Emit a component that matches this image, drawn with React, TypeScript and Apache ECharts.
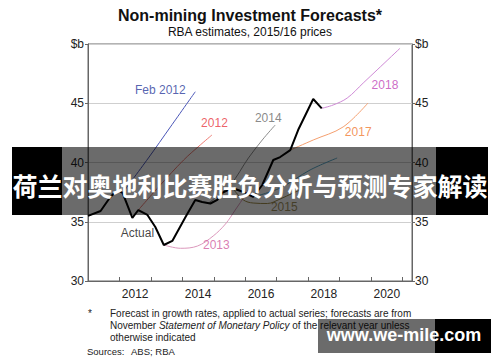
import React, { useEffect, useRef } from 'react';
import * as echarts from 'echarts';

// Actual series (year, $b)
const actualX = [2011.0, 2011.4, 2011.71, 2011.94, 2012.1, 2012.41, 2012.6, 2012.89, 2013.14, 2013.41, 2013.68, 2014.1, 2014.41, 2014.63, 2014.89, 2015.11, 2015.27, 2015.59, 2015.94, 2016.25, 2016.54, 2016.89, 2017.11, 2017.43, 2017.68, 2018.16, 2018.43];
const actualY = [35.49, 35.91, 37.09, 37.68, 37.43, 35.32, 35.99, 35.57, 34.56, 33.04, 33.38, 35.4, 36.84, 36.67, 36.54, 36.84, 37.43, 37.85, 37.51, 37.09, 38.1, 40.21, 40.46, 41.05, 42.74, 45.36, 44.57];

// Forecasts
const feb2012X = [2012.1, 2012.92, 2013.62, 2014.41];
const feb2012Y = [37.43, 40.38, 43.0, 45.97];
const f2012X = [2012.6, 2013.3, 2014.04, 2014.57, 2014.94];
const f2012Y = [35.99, 38.1, 40.21, 41.48, 42.32];
const f2013X = [2013.41, 2013.94, 2014.48, 2014.98, 2015.37, 2015.68, 2016.0, 2016.32];
const f2013Y = [33.04, 32.76, 32.95, 33.8, 34.81, 35.99, 37.26, 38.78];
const f2014X = [2014.83, 2015.52, 2016.1, 2016.54, 2016.95];
const f2014Y = [36.58, 38.1, 40.38, 41.9, 43.16];
const f2015X = [2015.59, 2015.94, 2016.25, 2016.7, 2017.11, 2017.52, 2017.75];
const f2015Y = [37.85, 36.84, 36.58, 36.54, 36.92, 37.43, 37.68];
const f2016X = [2016.25, 2017.11, 2018.06, 2018.92];
const f2016Y = [37.09, 37.85, 39.37, 40.38];
const f2017X = [2017.43, 2018.16, 2019.11, 2019.9];
const f2017Y = [41.05, 41.9, 43.0, 45.02];
const f2018X = [2018.43, 2018.79, 2019.24, 2019.75, 2020.19, 2020.92];
const f2018Y = [44.57, 44.85, 45.44, 46.71, 47.81, 49.64];

// Line annotations
const labelTexts = ['Feb 2012', '2012', '2014', '2017', '2018', 'Actual', '2013', '2015'];
const labelX = [2013.3, 2015.02, 2016.73, 2019.59, 2020.44, 2012.57, 2015.08, 2017.24];
const labelY = [46.12, 43.33, 43.76, 42.57, 46.54, 34.05, 33.04, 36.24];
const labelColors = ['#2b3a9c', '#e8383f', '#6a6a6a', '#f07a32', '#c045b8', '#111111', '#d05c9e', '#8a7636'];

const yTicks = [30, 35, 40, 45, 50];
const xLabelYears = [2012, 2014, 2016, 2018, 2020];

const FONT = '"Liberation Sans", Arial, sans-serif';

const zip = (xs: number[], ys: number[]) => xs.map((x, i) => [x, ys[i]]);

const forecast = (name: string, xs: number[], ys: number[], color: string) => ({
  name,
  type: 'line',
  data: zip(xs, ys),
  smooth: 0.35,
  symbol: 'none',
  lineStyle: { color, width: 1 },
  z: 2,
});

export default function App() {
  const ref = useRef<HTMLDivElement>(null);
  useEffect(() => {
    const chart = echarts.init(ref.current!, null, { renderer: 'svg' });
    const yLabel = (v: number) => (v === 50 ? '$b' : String(v));
    const option: any = {
      animation: false,
      backgroundColor: '#ffffff',
      grid: { left: 88, right: 88, top: 44, bottom: 81, show: true, borderColor: '#666', borderWidth: 1 },
      xAxis: [
        {
          type: 'value', min: 2011, max: 2021.3, interval: 1,
          axisLine: { show: true, lineStyle: { color: '#666' } },
          axisTick: { show: true, inside: true, length: 4, lineStyle: { color: '#666' } },
          axisLabel: { show: false },
          splitLine: { show: false },
        },
        {
          type: 'value', min: 2011, max: 2021.3, interval: 0.5, position: 'bottom',
          axisLine: { show: false }, axisTick: { show: false }, splitLine: { show: false },
          axisLabel: {
            show: true, margin: 7, fontSize: 12, color: '#222', fontFamily: FONT,
            showMinLabel: false, showMaxLabel: false,
            formatter: (v: number) => (xLabelYears.includes(v - 0.5) ? String(v - 0.5) : ''),
          },
        },
      ],
      yAxis: [
        {
          type: 'value', min: yTicks[0], max: yTicks[yTicks.length - 1], interval: 5, position: 'left',
          axisLine: { show: true, lineStyle: { color: '#666' } },
          axisTick: { show: true, length: 3, lineStyle: { color: '#666' } },
          axisLabel: { margin: 4, fontSize: 12, color: '#222', fontFamily: FONT, formatter: yLabel },
          splitLine: { show: true, lineStyle: { color: '#cfcfcf', width: 1 } },
        },
        {
          type: 'value', min: yTicks[0], max: yTicks[yTicks.length - 1], interval: 5, position: 'right',
          axisLine: { show: true, lineStyle: { color: '#666' } },
          axisTick: { show: true, length: 3, lineStyle: { color: '#666' } },
          axisLabel: { margin: 3, fontSize: 12, color: '#222', fontFamily: FONT, formatter: yLabel },
          splitLine: { show: false },
        },
      ],
      series: [
        forecast('Feb 2012', feb2012X, feb2012Y, '#4a56b8'),
        forecast('2012', f2012X, f2012Y, '#ee7a72'),
        forecast('2013', f2013X, f2013Y, '#dc98bc'),
        forecast('2014', f2014X, f2014Y, '#8c8c8c'),
        forecast('2015', f2015X, f2015Y, '#a08c48'),
        forecast('2016', f2016X, f2016Y, '#5aa8c8'),
        forecast('2017', f2017X, f2017Y, '#f5a070'),
        forecast('2018', f2018X, f2018Y, '#cf8ad6'),
        {
          name: 'Actual', type: 'line', data: zip(actualX, actualY), symbol: 'none',
          lineStyle: { color: '#000', width: 2 }, z: 3,
        },
        {
          name: 'labels', type: 'scatter', symbolSize: 0, z: 4,
          data: labelTexts.map((t, i) => ({
            name: t, value: [labelX[i], labelY[i]],
            label: { color: labelColors[i] },
          })),
          label: {
            show: true, position: 'inside', fontSize: 12, fontFamily: FONT,
            formatter: (p: any) => p.name,
          },
        },
      ],
      graphic: [
        {
          type: 'text', x: 250, y: 15, z: 10,
          style: { text: 'Non-mining Investment Forecasts*', font: `bold 16px ${FONT}`, fill: '#111', align: 'center', verticalAlign: 'middle' },
        },
        {
          type: 'text', x: 250, y: 32, z: 10,
          style: { text: 'RBA estimates, 2015/16 prices', font: `12px ${FONT}`, fill: '#111', align: 'center', verticalAlign: 'middle' },
        },
        {
          type: 'text', x: 88, y: 313, z: 10,
          style: { text: '*', font: `10px ${FONT}`, fill: '#222', verticalAlign: 'middle' },
        },
        {
          type: 'text', x: 110, y: 313, z: 10,
          style: { text: 'Forecast in growth rates, applied to actual series; forecasts are from', font: `10px ${FONT}`, fill: '#222', verticalAlign: 'middle' },
        },
        {
          type: 'text', x: 110, y: 325, z: 10,
          style: {
            text: 'November {i|Statement of Monetary Policy} of the relevant year unless',
            font: `10px ${FONT}`, fill: '#222', verticalAlign: 'middle',
            rich: { i: { fontStyle: 'italic', fontSize: 10, fontFamily: FONT, fill: '#222' } },
          },
        },
        {
          type: 'text', x: 110, y: 337, z: 10,
          style: { text: 'otherwise indicated', font: `10px ${FONT}`, fill: '#222', verticalAlign: 'middle' },
        },
        {
          type: 'text', x: 87, y: 351, z: 10,
          style: { text: 'Sources:', font: `9.5px ${FONT}`, fill: '#222', verticalAlign: 'middle' },
        },
        {
          type: 'text', x: 131, y: 351, z: 10,
          style: { text: 'ABS; RBA', font: `9.5px ${FONT}`, fill: '#222', verticalAlign: 'middle' },
        },
        // Banner overlay
        { type: 'rect', z: 50, shape: { x: 12, y: 147, width: 50, height: 68 }, style: { fill: '#000' } },
        { type: 'rect', z: 50, shape: { x: 62, y: 147, width: 374, height: 68 }, style: { fill: 'rgba(0,0,0,0.58)' } },
        { type: 'rect', z: 50, shape: { x: 436, y: 147, width: 52, height: 68 }, style: { fill: '#000' } },
        {
          type: 'text', x: 250, y: 185, z: 51,
          style: { text: '荷兰对奥地利比赛胜负分析与预测专家解读', font: `bold 25px "Noto Sans CJK SC", sans-serif`, fill: '#fff', align: 'center', verticalAlign: 'middle' },
        },
        // Watermark
        { type: 'rect', z: 50, shape: { x: 318, y: 319, width: 117, height: 34 }, style: { fill: 'rgba(0,0,0,0.58)' } },
        { type: 'rect', z: 50, shape: { x: 435, y: 319, width: 56, height: 34 }, style: { fill: '#000' } },
        {
          type: 'text', x: 404, y: 335, z: 51,
          style: { text: 'www.we-mile.com', font: `bold 18px ${FONT}`, fill: '#fff', align: 'center', verticalAlign: 'middle' },
        },
      ],
    };
    chart.setOption(option);
    return () => chart.dispose();
  }, []);
  return <div ref={ref} style={{ position: 'fixed', left: 0, top: 0, width: 500, height: 362 }} />;
}
